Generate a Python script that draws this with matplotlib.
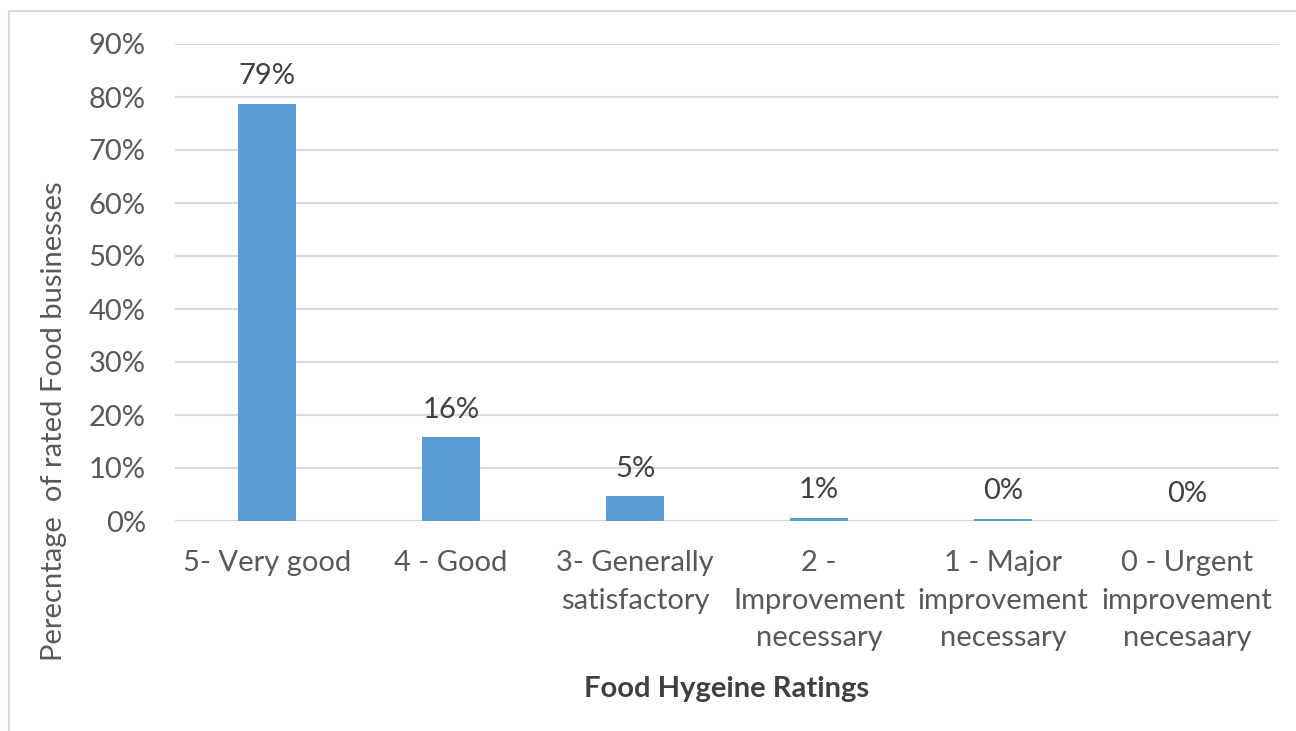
import matplotlib.pyplot as plt
from matplotlib.lines import Line2D
from matplotlib.ticker import PercentFormatter

plt.rcParams['font.family'] = ['Lato', 'DejaVu Sans']

categories = ["5- Very good", "4 - Good", "3- Generally\nsatisfactory", "2 -\nImprovement\nnecessary",
			  "1 - Major\nimprovement\nnecessary", "0 - Urgent\nimprovement\nnecesaary"]
shares = [0.787, 0.158, 0.047, 0.006, 0.004, 0.0]
y_ticks = [0.0, 0.1, 0.2, 0.3, 0.4, 0.5, 0.6, 0.7, 0.8, 0.9]

text_color = '#595959'
bar_color = '#5B9BD5'
grid_color = '#D9D9D9'

fig = plt.figure(figsize=(12.96, 7.31), dpi=100)
ax = fig.add_axes([175/1296, 1 - 521/731, 1104/1296, 477/731])

index = range(len(categories))
bars = ax.bar(index, shares, 0.31, color=bar_color, zorder=3)

# data labels above each bar
for bar, value in zip(bars, shares):
	ax.annotate(f'{value:.0%}', (bar.get_x() + bar.get_width() / 2, bar.get_height()),
				xytext=(0, 14), textcoords='offset points', ha='center', va='baseline',
				fontsize=21, color='#404040')

ax.set_xlim(-0.5, len(categories) - 0.5)
ax.set_ylim(0, 0.9)
ax.set_yticks(y_ticks)
ax.yaxis.set_major_formatter(PercentFormatter(1.0, decimals=0))
ax.set_xticks(list(index))
ax.set_xticklabels(categories, linespacing=1.55)
ax.grid(axis='y', color=grid_color, linewidth=1.5, zorder=0)
for side in ['top', 'right', 'left', 'bottom']:
	ax.spines[side].set_visible(False)
ax.tick_params(axis='both', length=0, labelsize=21, labelcolor=text_color)
ax.tick_params(axis='y', pad=21)
ax.tick_params(axis='x', pad=21)

fig.text(54/1296, 1 - 421/731, 'Perecntage  of rated Food businesses', rotation=90,
		 ha='center', va='center', fontsize=21, color=text_color)
fig.text(727/1296, 1 - 689/731, 'Food Hygeine Ratings', ha='center', va='center',
		 fontsize=21, fontweight='bold', color='#404040')

# light chart-area border
fig.add_artist(Line2D([9/1296, 9/1296], [0, 1 - 11/731], color=grid_color, linewidth=1.5))
fig.add_artist(Line2D([9/1296, 1], [1 - 11/731, 1 - 11/731], color=grid_color, linewidth=1.5))

fig.savefig('out.png', dpi=100, facecolor='white')
